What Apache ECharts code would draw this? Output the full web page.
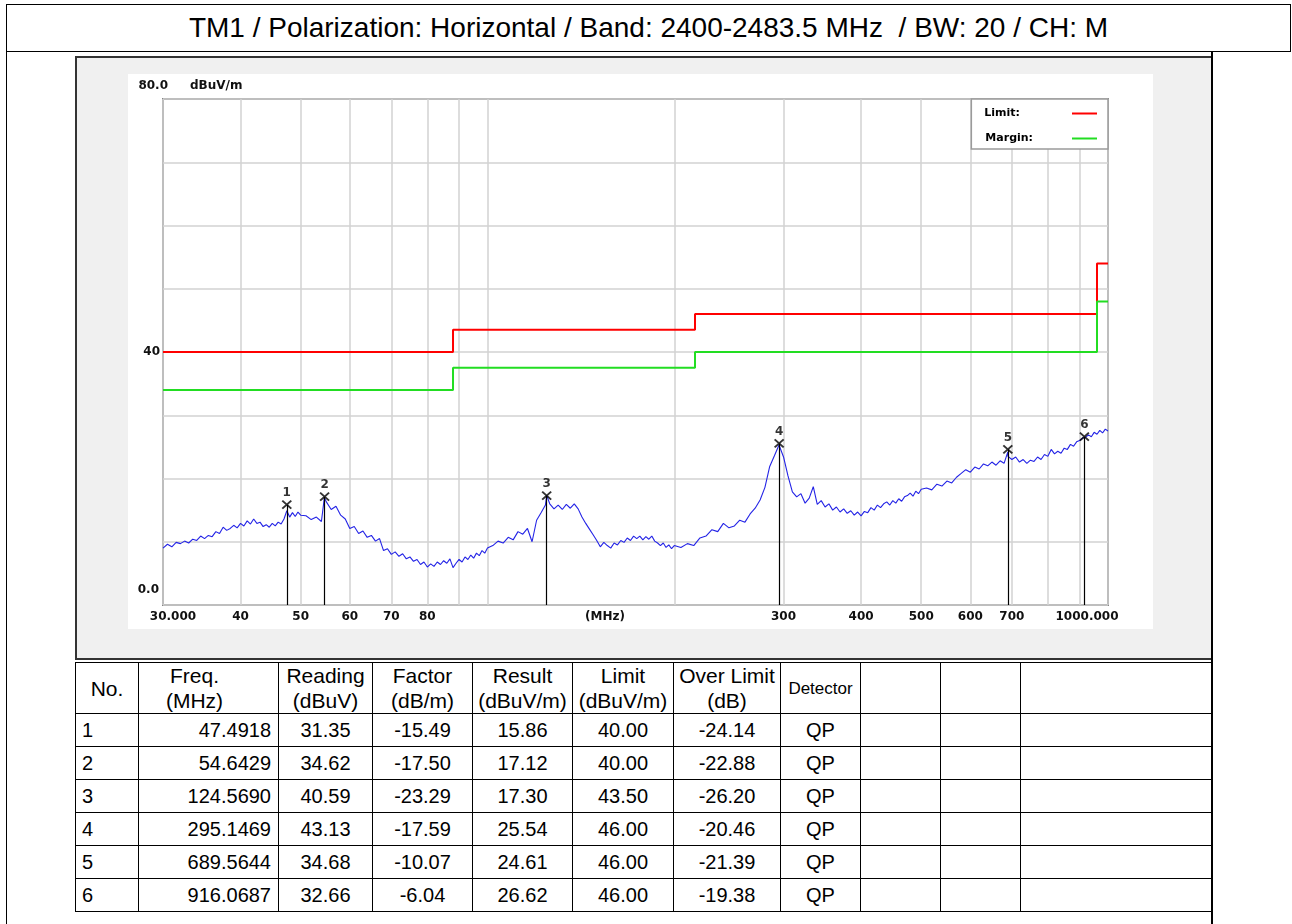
<!DOCTYPE html>
<html>
<head>
<meta charset="utf-8">
<script src="https://cdn.jsdelivr.net/npm/echarts@6/dist/echarts.min.js"></script>
<style>
  html, body { margin: 0; padding: 0; background: #fff; }
  body { width: 1292px; height: 924px; position: relative; overflow: hidden; font-family: "Liberation Sans", Arial, sans-serif; }
  .abs { position: absolute; box-sizing: border-box; }
  #title { left: 6px; top: 4px; width: 1285px; height: 48px; border: 1px solid #000; text-align: center; line-height: 46px; font-size: 28px; color: #000; }
  #lline { left: 6px; top: 51px; width: 1px; height: 873px; background: #000; }
  #rline { left: 1211px; top: 51px; width: 1.5px; height: 873px; background: #000; }
  #chartbox { left: 75px; top: 56px; width: 1138px; height: 604px; background: #f0f0f0; border-top: 2px solid #333; border-left: 2px solid #333; border-bottom: 2px solid #333; }
  #chart { left: 128px; top: 74px; width: 1025px; height: 555px; background: #fff; }
  #tbl { left: 75px; top: 662px; }
  table { border-collapse: collapse; table-layout: fixed; width: 1137px; font-family: "Liberation Sans", Arial, sans-serif; color: #000; }
  td { border: 1.5px solid #000; padding: 0; font-size: 20px; height: 32px; text-align: center; white-space: nowrap; overflow: hidden; }
  tr.hdr td { height: 49px; font-size: 21px; line-height: 25px; }
  td.no { text-align: left; padding-left: 6px; }
  tr.hdr td.no { text-align: center; padding-left: 0; }
  td.fr { text-align: right; padding-right: 7px; }
  tr.hdr td.fr { text-align: center; padding-right: 28px; }
  tr.hdr td.det { font-size: 17px; }
</style>
</head>
<body>
<div id="title" class="abs">TM1 / Polarization: Horizontal / Band: 2400-2483.5 MHz&nbsp; / BW: 20 / CH: M</div>
<div id="lline" class="abs"></div>
<div id="chartbox" class="abs"></div>
<div id="rline" class="abs"></div>
<div id="chart" class="abs"></div>
<div id="tbl" class="abs"></div>
<script>
// ---------------- data ----------------
// measured trace (MHz, dBuV/m), read off the plot
const traceFreq = [
  30,30.5,31,31.5,32,32.5,33,33.5,34,34.5,35,35.5,36,36.5,37,37.5,38,38.5,39,39.5,40,40.5,41,41.5,42,42.5,43,43.5,44,44.5,45,45.5,46,46.5,47,47.5,48,48.5,49,49.5,50,
  51,52,53,54,54.6,55,56,57,58,59,60,61,62,63,64,65,66,67,68,69,70,71,72,73,74,75,76,77,78,79,80,81,82,83,84,85,86,87,88,89,90,91,92,93,94,95,96,97,98,99,100,
  102,104,106,108,110,112,114,116,118,120,122,124,124.6,126,128,130,132,134,136,138,140,142,144,146,148,150,152,154,156,158,160,162,164,166,168,170,172,174,176,178,180,182,184,186,188,190,192,194,196,198,200,
  205,210,215,220,225,230,235,240,245,250,255,260,265,270,275,280,285,290,295,300,305,310,315,320,325,330,335,340,345,350,355,360,365,370,375,380,385,390,395,400,405,410,415,420,425,430,435,440,445,450,455,460,465,470,475,480,485,490,495,500,
  510,520,530,540,550,560,570,580,590,600,610,620,630,640,650,660,670,680,689.6,690,700,710,720,730,740,750,760,770,780,790,800,810,820,830,840,850,860,870,880,890,900,910,916.1,920,930,940,950,960,970,980,990,1000
];
const traceLevel = [
  9.0,9.6,9.2,9.9,9.7,10.1,9.8,10.4,10.2,10.9,10.5,11.0,10.8,11.6,11.3,12.3,11.8,12.1,12.6,12.2,12.9,12.5,13.3,12.8,13.6,12.9,13.1,12.4,12.7,12.3,12.9,12.5,13.1,12.8,13.6,14.9,13.9,14.6,14.0,14.7,14.2,
  14.1,13.5,13.9,13.2,17.0,16.3,15.1,15.6,14.2,13.6,12.1,12.4,11.3,11.7,10.7,11.0,10.1,10.5,8.6,8.9,8.0,8.4,7.7,8.1,7.3,7.6,6.9,7.2,6.4,6.8,6.0,6.5,6.1,6.8,6.4,7.0,6.6,7.3,5.9,6.6,7.2,6.8,7.6,7.2,7.9,7.4,8.2,7.8,8.6,8.2,9.0,
  9.4,10.1,9.8,10.7,10.3,11.6,11.2,12.1,10.0,13.4,14.6,15.8,17.3,16.0,15.2,15.8,15.1,15.9,15.3,16.0,15.2,13.9,12.9,12.0,11.1,10.2,9.2,9.9,9.4,9.0,9.8,9.5,10.2,9.9,10.6,10.2,10.9,10.5,10.9,10.3,10.8,10.4,10.9,10.1,9.8,9.4,9.8,9.1,9.5,8.9,9.4,
  9.1,9.7,9.4,10.6,10.9,11.9,11.6,12.9,12.2,12.5,13.4,13.1,14.4,15.3,16.6,18.6,21.9,23.6,25.3,23.4,20.4,17.9,17.1,17.6,16.1,16.9,18.7,15.9,16.5,15.5,16.0,15.0,15.5,14.7,15.2,14.5,14.9,14.2,14.7,14.1,14.8,14.6,15.4,15.0,15.8,15.4,16.0,16.3,15.8,16.5,16.1,16.8,16.4,17.1,17.3,17.7,17.2,18.0,17.6,18.3,
  18.5,18.2,19.1,18.8,19.6,19.3,20.2,20.8,21.4,21.0,21.8,21.5,22.3,22.0,22.6,22.1,22.8,22.4,24.2,23.5,23.0,23.4,22.6,23.0,22.4,22.9,22.7,23.4,23.0,23.8,23.5,24.6,23.9,24.3,24.0,24.8,24.6,25.4,25.1,25.8,26.0,26.4,26.7,26.5,26.9,26.6,27.3,27.0,27.6,27.2,27.8,27.5
];
// Limit and margin breakpoints (step lines)
const limitFreq   = [30, 88, 88, 216, 216, 960, 960, 1000];
const limitLevel  = [40, 40, 43.5, 43.5, 46, 46, 54, 54];
const marginLevel = [34, 34, 37.5, 37.5, 40, 40, 48, 48];

// markers / table
const markerNo      = ['1','2','3','4','5','6'];
const markerFreq    = [47.4918, 54.6429, 124.5690, 295.1469, 689.5644, 916.0687];
const markerFreqTxt = ['47.4918','54.6429','124.5690','295.1469','689.5644','916.0687'];
const readingTxt    = ['31.35','34.62','40.59','43.13','34.68','32.66'];
const factorTxt     = ['-15.49','-17.50','-23.29','-17.59','-10.07','-6.04'];
const resultVal     = [15.86, 17.12, 17.30, 25.54, 24.61, 26.62];
const limitTxt      = ['40.00','40.00','43.50','46.00','46.00','46.00'];
const overTxt       = ['-24.14','-22.88','-26.20','-20.46','-21.39','-19.38'];
const detectorTxt   = ['QP','QP','QP','QP','QP','QP'];

// axis ticks
const gridFreqs  = [30,40,50,60,70,80,90,100,200,300,400,500,600,700,800,900,1000];
const labelFreqs = [30,40,50,60,70,80,300,400,500,600,700,1000];
const yLabelVals = [0,40,80];

// ---------------- table ----------------
(function buildTable(){
  const widths = [63,140,94,100,100,101,107,80,80,80,192];
  let h = '<table><colgroup>' + widths.map(w => '<col style="width:'+w+'px">').join('') + '</colgroup>';
  h += '<tr class="hdr"><td class="no">No.</td><td class="fr">Freq.<br>(MHz)</td><td>Reading<br>(dBuV)</td><td>Factor<br>(dB/m)</td><td>Result<br>(dBuV/m)</td><td>Limit<br>(dBuV/m)</td><td>Over Limit<br>(dB)</td><td class="det">Detector</td><td></td><td></td><td></td></tr>';
  for (let i = 0; i < markerNo.length; i++) {
    h += '<tr><td class="no">'+markerNo[i]+'</td><td class="fr">'+markerFreqTxt[i]+'</td><td>'+readingTxt[i]+'</td><td>'+factorTxt[i]+'</td><td>'+resultVal[i].toFixed(2)+'</td><td>'+limitTxt[i]+'</td><td>'+overTxt[i]+'</td><td>'+detectorTxt[i]+'</td><td></td><td></td><td></td></tr>';
  }
  h += '</table>';
  document.getElementById('tbl').innerHTML = h;
})();

// ---------------- chart ----------------
const chart = echarts.init(document.getElementById('chart'), null, {renderer: 'canvas'});
const FONT = 'DejaVu Sans';
const tracePairs  = traceFreq.map((f, i) => [f, traceLevel[i]]);
const limitPairs  = limitFreq.map((f, i) => [f, limitLevel[i]]);
const marginPairs = limitFreq.map((f, i) => [f, marginLevel[i]]);
const markerPts   = markerFreq.map((f, i) => [f, resultVal[i]]);
const markerLines = markerFreq.map((f, i) => [{coord: [f, 0]}, {coord: [f, resultVal[i]]}]);
const lab = {fontFamily: FONT, fontWeight: 'bold', fontSize: 12, color: '#111'};

const option = {
  animation: false,
  backgroundColor: '#ffffff',
  grid: {left: 35, top: 25, width: 945, height: 506, containLabel: false, outerBoundsMode: 'none',
         show: true, borderColor: '#858585', borderWidth: 2, backgroundColor: 'transparent'},
  legend: {
    data: ['Limit', 'Margin'],
    orient: 'vertical', right: 45, top: 25, align: 'right',
    selectedMode: false,
    backgroundColor: '#ffffff', borderColor: '#9a9a9a', borderWidth: 1.5, borderRadius: 0,
    padding: [9, 11, 5, 13], itemGap: 14,
    icon: 'rect', itemWidth: 25, itemHeight: 2,
    formatter: name => name === 'Limit' ? '{l|Limit:}' : '{m|Margin:}',
    textStyle: {
      fontFamily: FONT, fontWeight: 'bold', fontSize: 11, color: '#000',
      rich: {
        l: {padding: [0, 47, 0, 0], fontFamily: FONT, fontWeight: 'bold', fontSize: 11, color: '#000'},
        m: {padding: [0, 34, 0, 0], fontFamily: FONT, fontWeight: 'bold', fontSize: 11, color: '#000'}
      }
    }
  },
  xAxis: {
    type: 'log', logBase: 10, min: 30, max: 1000,
    name: '(MHz)', nameLocation: 'middle', nameGap: 6, nameMoveOverlap: false,
    nameTextStyle: Object.assign({}, lab, {verticalAlign: 'top', padding: [0, 61, 0, 0]}),
    axisLine: {show: false},
    axisTick: {show: false, customValues: gridFreqs},
    splitLine: {show: true, lineStyle: {color: '#d2d2d2', width: 1.5}},
    axisLabel: Object.assign({}, lab, {
      customValues: labelFreqs, margin: 6,
      formatter: v => v === 30 ? '{a|30.000}' : (v === 1000 ? '{b|1000.000}' : '{c|' + Math.round(v) + '}'),
      rich: {
        a: Object.assign({}, lab, {padding: [0, 0, 0, 20]}),
        b: Object.assign({}, lab, {padding: [0, 42, 0, 0]}),
        c: lab
      }
    })
  },
  yAxis: {
    type: 'value', min: 0, max: 80, interval: 10,
    name: 'dBuV/m', nameLocation: 'end', nameGap: 13,
    nameTextStyle: Object.assign({}, lab, {align: 'left', verticalAlign: 'middle', padding: [0, 0, 0, 27]}),
    axisLine: {show: false}, axisTick: {show: false},
    splitLine: {show: true, lineStyle: {color: '#d2d2d2', width: 1.5}},
    axisLabel: Object.assign({}, lab, {
      customValues: yLabelVals, margin: -5,
      formatter: v => v === 80 ? '{t|80.0}' : (v === 0 ? '{b|0.0}' : '{m|' + v + '}'),
      rich: {
        t: Object.assign({}, lab, {padding: [0, 0, 26, 0]}),
        m: Object.assign({}, lab, {padding: [0, 8, 0, 0]}),
        b: Object.assign({}, lab, {padding: [0, 9, 30, 0]})
      }
    })
  },
  series: [
    {
      name: 'Trace', type: 'line', data: tracePairs, showSymbol: false, z: 3,
      lineStyle: {color: '#2323e6', width: 1.1}, itemStyle: {color: '#2323e6'}
    },
    {
      name: 'Limit', type: 'line', data: limitPairs, showSymbol: false, z: 4,
      color: '#ff0000', lineStyle: {color: '#ff0000', width: 2}
    },
    {
      name: 'Margin', type: 'line', data: marginPairs, showSymbol: false, z: 4,
      color: '#22dd22', lineStyle: {color: '#22dd22', width: 2}
    },
    {
      name: 'Markers', type: 'scatter', data: markerPts, z: 5,
      symbol: 'path://M0,0L10,10M10,0L0,10', symbolSize: [9, 8],
      itemStyle: {color: 'rgba(0,0,0,0)', borderColor: '#000', borderWidth: 1.8},
      label: {
        show: true, position: 'top', distance: 1,
        formatter: p => markerNo[p.dataIndex],
        fontFamily: FONT, fontWeight: 'bold', fontSize: 12, color: '#000'
      },
      markLine: {
        silent: true, symbol: ['none', 'none'], animation: false,
        label: {show: false},
        lineStyle: {color: '#000', width: 1.2, type: 'solid'},
        data: markerLines
      }
    }
  ]
};
chart.setOption(option);
</script>
</body>
</html>
